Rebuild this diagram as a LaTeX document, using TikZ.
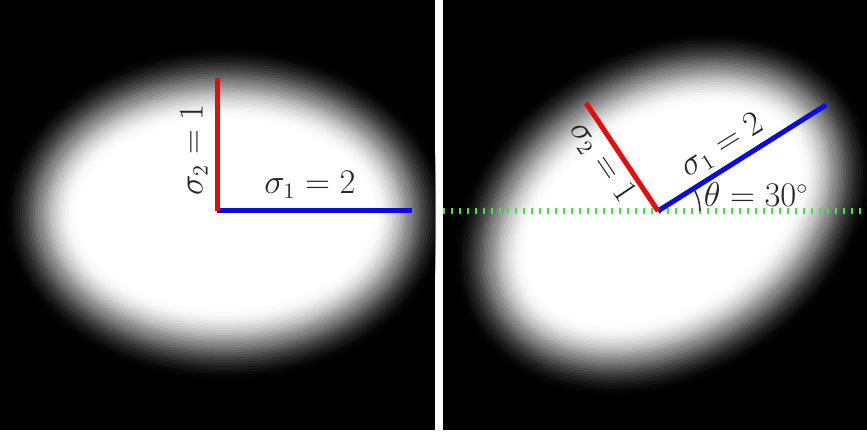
\documentclass[tikz,border=0pt]{standalone}
\usepackage{fontspec}
\setmainfont{Liberation Serif}
\usetikzlibrary{positioning}
\definecolor{sigblue}{RGB}{10,10,225}
\definecolor{sigred}{RGB}{228,12,12}
\definecolor{refgreen}{RGB}{70,225,70}
\begin{document}
\begin{tikzpicture}[
                x=0.5pt, y=0.5pt,
                every node/.style={font=\fontsize{16}{18}\selectfont, inner sep=0.5pt, text=black!85},
                sigone/.style={line width=2.5pt, draw=sigblue},
                sigtwo/.style={line width=2.5pt, draw=sigred},
                refline/.style={line width=3pt, draw=refgreen, dash pattern=on 1pt off 3pt}]

            % panels
            \useasboundingbox (0,0) rectangle (867,433);
            \fill[white] (0,0) rectangle (867,433);
            \fill[black] (0,3) rectangle (435,433);
            \fill[black] (443,3) rectangle (867,433);

            % blurred ellipses
            \begin{scope}
                \clip (0,3) rectangle (435,433);
                \foreach \k in {0,...,30}{
                    \pgfmathtruncatemacro\p{100*(3*(\k/30)^2-2*(\k/30)^3)}
                    \fill[white!\p!black] (225,219) ellipse [x radius={225-2.5*\k}, y radius={171-2.5*\k}];
                }
            \end{scope}
            \begin{scope}
                \clip (443,3) rectangle (867,433);
                \foreach \k in {0,...,30}{
                    \pgfmathtruncatemacro\p{100*(3*(\k/30)^2-2*(\k/30)^3)}
                    \fill[white!\p!black, rotate around={30:(663,219)}] (663,219) ellipse [x radius={225-2.5*\k}, y radius={171-2.5*\k}];
                }
            \end{scope}

            % left axes
            \coordinate (lo) at (217,222);
            \coordinate (lx) at (412,222);
            \coordinate (ly) at (217,355);
            \draw[sigone] (lo) -- (lx);
            \draw[sigtwo] (lo) -- (ly);
            \node (lsigone) at (310,248) {$\sigma_1=2$};
            \node[rotate=90] (lsigtwo) at (194,283) {$\sigma_2=1$};

            % right axes
            \coordinate (gl) at (443,222);
            \coordinate (gr) at (867,222);
            \draw[refline] (gl) -- (gr);
            \coordinate (ro) at (658,222);
            \coordinate (rx) at (826,328);
            \coordinate (ry) at (586,330);
            \draw[sigone] (ro) -- (rx);
            \draw[sigtwo] (ro) -- (ry);
            \draw[line width=0.8pt, black!80] (ro) ++(42,0) arc[start angle=0, end angle=30, radius=42];
            \node[rotate=32] (rsigone) at (722,287) {$\sigma_1=2$};
            \node[rotate=-56] (rsigtwo) at (602,271) {$\sigma_2=1$};
            \node (theta) at (756,238) {$\theta=30^\circ$};

        \end{tikzpicture}
\end{document}
